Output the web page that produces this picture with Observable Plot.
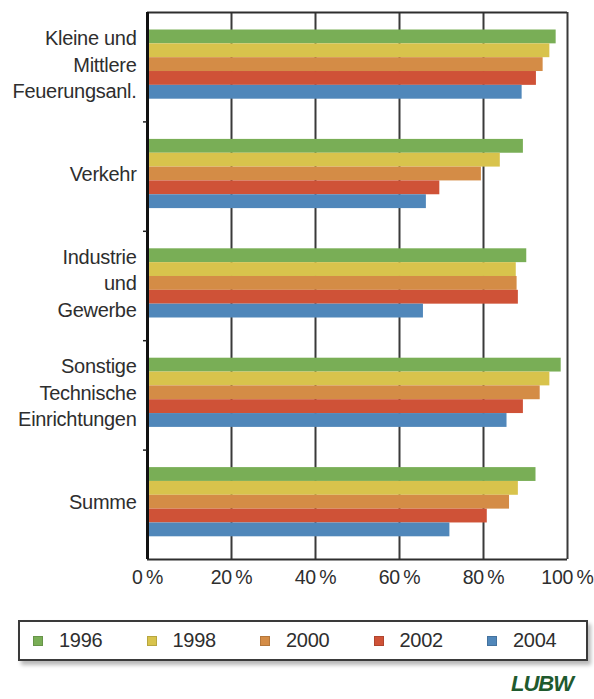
<!DOCTYPE html>
<html><head><meta charset="utf-8">
<script src="https://cdn.jsdelivr.net/npm/d3@7"></script>
<script src="https://cdn.jsdelivr.net/npm/@observablehq/plot@0.6"></script>
<style>
html,body{margin:0;padding:0;background:#fff;overflow:hidden;width:594px;height:699px;}
#chart{position:absolute;left:0;top:0;}
#chart text{letter-spacing:-0.3px;}
#legend{position:absolute;left:18px;top:620px;width:553px;height:37px;border:2px solid #3a3a3a;box-shadow:3px 4px 4px rgba(0,0,0,0.28);display:flex;align-items:center;padding-left:13px;box-sizing:content-box;font-family:"Liberation Sans",Arial,sans-serif;font-size:20px;letter-spacing:-0.3px;color:#2e2e2e;background:#fff;}
#legend .item{display:flex;align-items:center;width:113.5px;flex:none;}
#legend .sw{width:10px;height:10px;margin-right:16px;border:1px solid rgba(0,0,0,0.15);box-sizing:border-box;}
#logo{position:absolute;left:505px;top:671px;width:68px;text-align:right;font-family:"Liberation Sans",Arial,sans-serif;font-weight:bold;font-style:italic;font-size:22px;color:#1f5a2e;letter-spacing:-1px;}
</style>
</head><body>
<div id="chart"></div>
<div id="legend"></div>
<div id="logo">LUBW</div>
<script>
const categories = ["Kleine und\nMittlere\nFeuerungsanl.", "Verkehr", "Industrie\nund\nGewerbe", "Sonstige\nTechnische\nEinrichtungen", "Summe"];
const years = ["1996", "1998", "2000", "2002", "2004"];
const colors = ["#79ae56", "#d8c34c", "#d48c46", "#cf5237", "#5087ba"];
const v1996 = [97.3, 89.5, 90.3, 98.5, 92.5];
const v1998 = [95.8, 84.0, 87.8, 95.8, 88.3];
const v2000 = [94.2, 79.5, 88.0, 93.5, 86.2];
const v2002 = [92.6, 69.6, 88.3, 89.5, 80.9];
const v2004 = [89.2, 66.4, 65.7, 85.6, 72.0];
const xTicks = [0, 20, 40, 60, 80, 100];

const series = [v1996, v1998, v2000, v2002, v2004];
const rows = [];
categories.forEach((c, ci) => {
  years.forEach((y, yi) => rows.push({cat: c, ci, year: y, yi, value: series[yi][ci]}));
});

const groupTop = 0.16, barH = 0.1265;
const font = '"Liberation Sans", Arial, sans-serif';

const chart = Plot.plot({
  width: 594,
  height: 610,
  marginLeft: 147,
  marginRight: 27,
  marginTop: 12,
  marginBottom: 51,
  style: {fontFamily: font, fontSize: "19px", color: "#2e2e2e", background: "transparent", overflow: "visible"},
  x: {type: "linear", domain: [0, 100], axis: null, label: null},
  y: {type: "linear", domain: [0, categories.length], reverse: true, axis: null, label: null},
  color: {domain: years, range: colors},
  marks: [
    Plot.ruleX(xTicks.slice(1), {stroke: "#3a3a3a", strokeWidth: 2}),
    Plot.rectX(rows, {
      x1: 0,
      x2: "value",
      y1: d => d.ci + groupTop + d.yi * barH,
      y2: d => d.ci + groupTop + (d.yi + 1) * barH,
      fill: "year"
    }),
    Plot.ruleY([0, categories.length], {stroke: "#2e2e2e", strokeWidth: 2.2}),
    Plot.ruleX([0], {stroke: "#111", strokeWidth: 3}),
    Plot.axisY({ticks: d3.range(1, categories.length), tickSize: 4, tickFormat: () => "", label: null, stroke: "#222", strokeWidth: 1.5}),
    Plot.axisX({ticks: xTicks, tickFormat: d => `${d}\u2009%`, tickSize: 0, tickPadding: 11, label: null, fontSize: 19.5, fill: "#2e2e2e"}),
    Plot.text(categories, {
      x: 0,
      y: (d, i) => i + groupTop + 2.4 * barH,
      text: d => d,
      textAnchor: "end",
      dx: -11,
      lineHeight: 1.32,
      fontSize: 20,
      fill: "#2e2e2e"
    })
  ]
});
document.getElementById("chart").appendChild(chart);

const legend = document.getElementById("legend");
years.forEach((y, i) => {
  const it = document.createElement("div");
  it.className = "item";
  const sw = document.createElement("span");
  sw.className = "sw";
  sw.style.background = colors[i];
  const t = document.createElement("span");
  t.textContent = y;
  it.appendChild(sw);
  it.appendChild(t);
  legend.appendChild(it);
});
</script>
</body></html>
